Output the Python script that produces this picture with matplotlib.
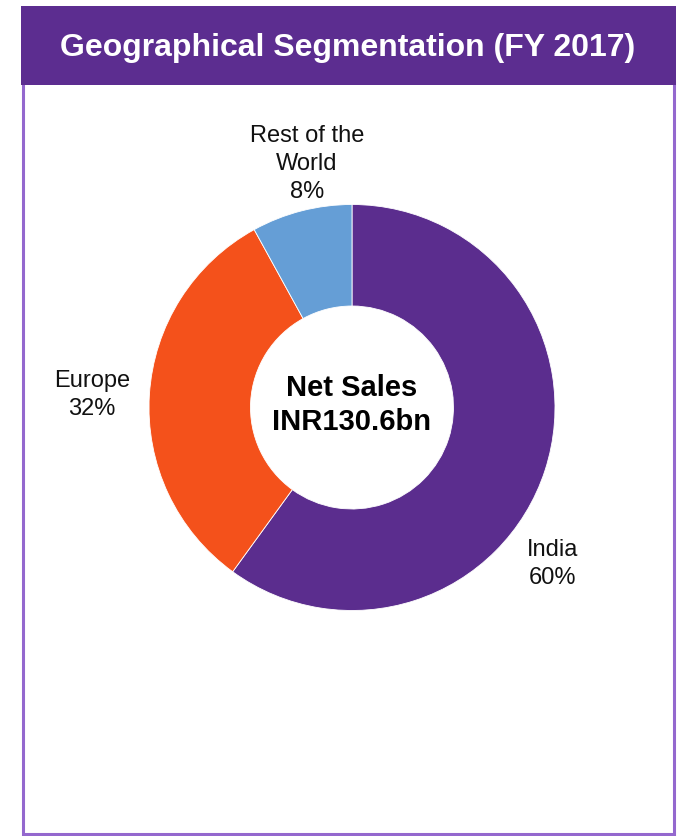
import matplotlib.pyplot as plt
from matplotlib.patches import Rectangle

plt.rcParams['font.family'] = ['Liberation Sans', 'DejaVu Sans']

regions = ['India', 'Europe', 'Rest of the\nWorld']
shares = [60, 32, 8]
colors = ['#5B2D8E', '#F4511B', '#659ED6']

W, H = 678, 836
fig = plt.figure(figsize=(W / 100, H / 100), dpi=100)
ax = fig.add_axes([0, 0, 1, 1])

# panel frame and title bar (pixel coordinates, y measured from the bottom)
ax.add_patch(Rectangle((22.5, 2), 651, 752, facecolor='white',
                       edgecolor='#9468CE', linewidth=2.2, zorder=0))
ax.add_patch(Rectangle((21, H - 85), 655, 79, facecolor='#5C2D90',
                       edgecolor='none', zorder=1))
ax.text(348, H - 48, 'Geographical Segmentation (FY 2017)', color='white',
        fontsize=23, fontweight='bold', ha='center', va='center', zorder=2)

cx, cy, r = 352, H - 407.5, 203
ax.pie(shares, colors=colors, startangle=90, counterclock=False,
       center=(cx, cy), radius=r,
       wedgeprops=dict(width=r * 0.5, edgecolor='white', linewidth=0.6))

# outside labels
label_pos = {'India': (553, H - 564), 'Europe': (92, H - 395),
             'Rest of the\nWorld': (307, H - 164)}
for name, val in zip(regions, shares):
    x, y = label_pos[name]
    ax.text(x, y, f'{name}\n{val}%', fontsize=17, ha='center', va='center',
            linespacing=1.38, color='#111111')

ax.text(cx, H - 405, 'Net Sales\nINR130.6bn', fontsize=21, fontweight='bold',
        ha='center', va='center', linespacing=1.25)

ax.set_xlim(0, W)
ax.set_ylim(0, H)
ax.set_aspect('auto')
ax.axis('off')

fig.savefig('out.png', dpi=100)
